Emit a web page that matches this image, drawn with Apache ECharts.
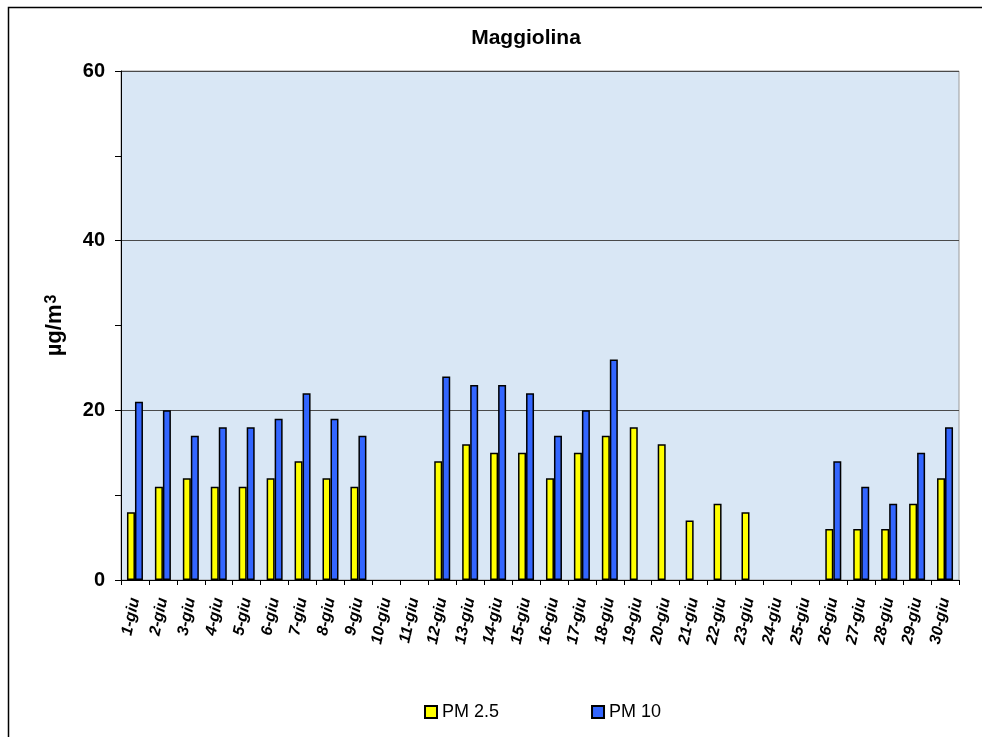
<!DOCTYPE html>
<html>
<head>
<meta charset="utf-8">
<script src="https://cdn.jsdelivr.net/npm/echarts@6/dist/echarts.min.js"></script>
<style>
  html, body { margin: 0; padding: 0; background: #fff; }
  #chart { width: 982px; height: 737px; }
</style>
</head>
<body>
<div id="chart"></div>
<script>
// giorni di giugno
const days = [
  '1-giu', '2-giu', '3-giu', '4-giu', '5-giu', '6-giu', '7-giu', '8-giu', '9-giu', '10-giu',
  '11-giu', '12-giu', '13-giu', '14-giu', '15-giu', '16-giu', '17-giu', '18-giu', '19-giu', '20-giu',
  '21-giu', '22-giu', '23-giu', '24-giu', '25-giu', '26-giu', '27-giu', '28-giu', '29-giu', '30-giu'
];
const pm25 = [8, 11, 12, 11, 11, 12, 14, 12, 11, null, null, 14, 16, 15, 15, 12, 15, 17, 18, 16,
  7, 9, 8, null, null, 6, 6, 6, 9, 12];
const pm10 = [21, 20, 17, 18, 18, 19, 22, 19, 17, null, null, 24, 23, 23, 22, 17, 20, 26, null, null,
  null, null, null, null, null, 14, 11, 9, 15, 18];
const yTicks = [0, 20, 40, 60];

const font = 'Liberation Sans, Arial, sans-serif';
const chart = echarts.init(document.getElementById('chart'));

chart.setOption({
  animation: false,
  textStyle: { fontFamily: font },
  title: {
    text: 'Maggiolina',
    left: 521,
    top: 23,
    textAlign: 'center',
    textStyle: { fontSize: 21, fontWeight: 'bold', color: '#000', fontFamily: font }
  },
  graphic: [{
    type: 'rect',
    shape: { x: 8.5, y: 7.5, width: 1100, height: 1000 },
    style: { fill: 'none', stroke: '#000', lineWidth: 1.5 },
    silent: true
  }],
  legend: {
    left: 419,
    top: 698,
    itemWidth: 12,
    itemHeight: 12,
    itemGap: 92,
    icon: 'rect',
    textStyle: { fontSize: 18, color: '#000', fontFamily: font }
  },
  grid: {
    left: 121,
    right: 23,
    top: 71,
    bottom: 157,
    show: true,
    backgroundColor: '#d9e7f5',
    borderColor: '#9a9a9a',
    borderWidth: 1
  },
  xAxis: {
    type: 'category',
    data: days,
    axisLine: { lineStyle: { color: '#000', width: 1 } },
    axisTick: { show: true, interval: 0, length: 5, lineStyle: { color: '#000' } },
    axisLabel: {
      interval: 0,
      rotate: 78,
      margin: 18,
      fontSize: 16,
      fontStyle: 'italic',
      fontWeight: 'bold',
      color: '#000',
      fontFamily: font
    }
  },
  yAxis: {
    type: 'value',
    min: 0,
    max: 60,
    interval: 20,
    name: '{b|µg/m}{s|3}',
    nameLocation: 'middle',
    nameGap: 55,
    nameTextStyle: {
      fontFamily: font,
      rich: {
        b: { fontSize: 22, fontWeight: 'bold', color: '#000', fontFamily: font },
        s: { fontSize: 16, fontWeight: 'bold', color: '#000', fontFamily: font, verticalAlign: 'top', padding: [0, 0, 6, 1] }
      }
    },
    axisLine: { show: true, lineStyle: { color: '#000', width: 1 } },
    axisTick: { show: true, length: 6, lineStyle: { color: '#000' } },
    minorTick: { show: true, splitNumber: 2, length: 6, lineStyle: { color: '#000' } },
    axisLabel: {
      fontSize: 20,
      fontWeight: 'bold',
      color: '#000',
      margin: 16,
      fontFamily: font,
      formatter: v => (yTicks.includes(v) ? String(v) : '')
    },
    splitLine: { show: true, lineStyle: { color: '#4a4a4a', width: 1 } }
  },
  series: [
    {
      name: 'PM 2.5',
      type: 'bar',
      data: pm25,
      barWidth: 8,
      barGap: '0%',
      itemStyle: { color: '#ffff00', borderColor: '#000', borderWidth: 1.5 }
    },
    {
      name: 'PM 10',
      type: 'bar',
      data: pm10,
      barWidth: 8,
      itemStyle: { color: '#3366ff', borderColor: '#000', borderWidth: 1.5 }
    }
  ]
});
</script>
</body>
</html>
